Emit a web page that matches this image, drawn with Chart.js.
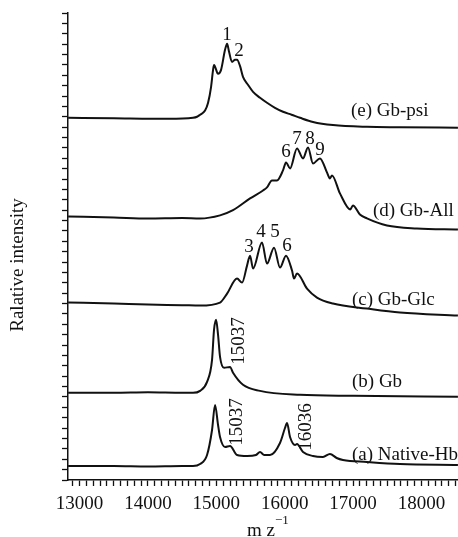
<!DOCTYPE html>
<html>
<head>
<meta charset="utf-8">
<script src="https://cdn.jsdelivr.net/npm/chart.js@4/dist/chart.umd.min.js"></script>
<style>
  body { margin: 0; background: #fff; }
  canvas { display: block; }
</style>
</head>
<body>
<canvas id="myChart" width="458" height="537"></canvas>
<script>
// spectra: m/z and intensity above each trace's own baseline
const seriesNames = ['(a) Native-Hb', '(b) Gb', '(c) Gb-Glc', '(d) Gb-All', '(e) Gb-psi']
const offsets = [1.35, 8.4, 17.0, 25.4, 34.9]

const mzA = [12832, 13500, 14000, 14500, 14659, 14762, 14864, 14937, 14981, 15025, 15054, 15127, 15200, 15303, 15449, 15580, 15639, 15700, 15785, 15931, 16004, 16034, 16078, 16151, 16180, 16268, 16414, 16560, 16662, 16760, 16852, 17203, 17686, 18534]
const intA = [0, 0, -0.05, 0, 0, 0.19, 1.06, 3.47, 5.88, 3.95, 2.79, 1.83, 1.93, 1.06, 0.96, 1.06, 1.35, 1.06, 1.06, 2.22, 3.66, 4.14, 2.79, 2.02, 2.12, 1.35, 0.96, 0.87, 1.16, 0.77, 0.58, 0.39, 0.19, 0.1]

const mzB = [12832, 13500, 14000, 14500, 14659, 14762, 14864, 14937, 14966, 14996, 15025, 15054, 15113, 15200, 15244, 15390, 15639, 16224, 17000, 18534]
const intB = [0, 0, 0.05, 0, 0, 0.19, 1.06, 3.18, 6.07, 7.03, 5.59, 3.47, 2.41, 2.5, 1.93, 0.77, 0.19, -0.19, -0.29, -0.39]

const mzC = [12832, 13500, 14000, 14500, 14762, 15054, 15157, 15303, 15376, 15449, 15493, 15537, 15668, 15741, 15844, 15931, 16019, 16107, 16136, 16180, 16326, 16472, 16706, 17203, 17686, 18534]
const intC = [0.1, 0, -0.1, -0.15, -0.19, 0.1, 0.96, 2.41, 2.02, 3.66, 4.62, 3.37, 5.88, 3.85, 5.39, 3.47, 4.62, 3.18, 2.41, 2.89, 1.45, 0.58, 0, -0.48, -0.87, -1.16]

const mzD = [12832, 13500, 14000, 14500, 14762, 15054, 15244, 15493, 15683, 15741, 15814, 15887, 15975, 16019, 16078, 16180, 16268, 16341, 16414, 16516, 16618, 16662, 16692, 16808, 16960, 16998, 17100, 17203, 17496, 17934, 18534]
const intD = [0, -0.1, -0.2, -0.15, -0.2, 0.1, 0.6, 1.73, 2.5, 2.8, 3.47, 3.47, 4.43, 5.2, 4.62, 6.55, 5.59, 6.65, 5.1, 5.59, 4.24, 3.66, 3.95, 2.22, 0.67, 1.06, 0.19, -0.19, -0.87, -1.16, -1.25]

const mzE = [12832, 13500, 14300, 14659, 14718, 14762, 14835, 14879, 14923, 14952, 14966, 15025, 15069, 15127, 15157, 15186, 15229, 15273, 15303, 15346, 15390, 15463, 15537, 15639, 15741, 15858, 15975, 16100, 16224, 16414, 16706, 17203, 17686, 18534]
const intE = [0, -0.05, -0.1, 0, 0.1, 0.3, 0.7, 1.45, 2.99, 4.62, 5.1, 4.24, 4.62, 6.55, 7.13, 6.36, 5.39, 5.59, 5.59, 5.0, 3.95, 3.18, 2.5, 1.93, 1.45, 0.96, 0.58, 0.3, 0.0, -0.4, -0.7, -0.87, -0.91, -0.96]

const mzList = [mzA, mzB, mzC, mzD, mzE]
const intList = [intA, intB, intC, intD, intE]

// x axis: labelled every 1000, small ticks every 100
const xTickLabels = [13000, 14000, 15000, 16000, 17000, 18000]
const xMinorStep = 100

// peak numbers and masses written beside the traces [text, m/z, y, rotated]
const peakTags = [
    ['1', 15157, 42.87, false], ['2', 15332, 41.33, false],
    ['6', 16019, 31.6, false], ['7', 16180, 32.85, false], ['8', 16370, 32.85, false], ['9', 16516, 31.79, false],
    ['3', 15478, 22.45, false], ['4', 15654, 23.89, false], ['5', 15858, 23.89, false], ['6', 16034, 22.54, false],
    ['15037', 15332, 13.39, true],
    ['15037', 15303, 5.59, true], ['16036', 16311, 5.11, true]
]
// where each trace name starts [m/z, y]
const nameAt = [[16984, 2.41], [16984, 9.44], [16984, 17.34], [17291, 25.92], [16969, 35.55]]

const serif = "'Liberation Serif', 'Times New Roman', serif"

const datasets = seriesNames.map((name, s) => ({
    label: name,
    data: mzList[s].map((m, i) => ({ x: m, y: intList[s][i] + offsets[s] })),
    borderColor: '#111',
    borderWidth: 2,
    pointRadius: 0,
    cubicInterpolationMode: 'monotone',
    fill: false
}))

const textPlugin = {
    id: 'texts',
    afterDraw(chart) {
        const c = chart.ctx
        const x = chart.scales.x
        const y = chart.scales.y
        c.save()
        c.fillStyle = '#111'
        c.font = '19px ' + serif
        c.textBaseline = 'middle'

        c.textAlign = 'left'
        nameAt.forEach((p, i) => {
            c.fillText(seriesNames[i], x.getPixelForValue(p[0]), y.getPixelForValue(p[1]))
        })

        c.textAlign = 'center'
        peakTags.forEach(t => {
            const px = x.getPixelForValue(t[1])
            const py = y.getPixelForValue(t[2])
            if (t[3]) {
                c.save()
                c.translate(px, py)
                c.rotate(-Math.PI / 2)
                c.fillText(t[0], 0, 0)
                c.restore()
            } else {
                c.fillText(t[0], px, py)
            }
        })

        // axis titles
        c.save()
        c.translate(18, 265)
        c.rotate(-Math.PI / 2)
        c.fillText('Ralative intensity', 0, 0)
        c.restore()

        c.textBaseline = 'alphabetic'
        c.fillText('m z', 261, 536)
        c.font = '13px ' + serif
        c.textAlign = 'left'
        c.fillText('\u2212' + '1', 275, 524)
        c.restore()
    }
}

const axisLine = { display: true, color: '#111', width: 1.5 }
const tickGrid = { display: true, drawOnChartArea: false, drawTicks: true, tickLength: 6, tickColor: '#111', tickWidth: 1.3 }

new Chart(document.getElementById('myChart').getContext('2d'), {
    type: 'line',
    data: { datasets: datasets },
    options: {
        responsive: false,
        animation: false,
        layout: { padding: { top: 13, right: 0, left: 0, bottom: 0 } },
        plugins: { legend: { display: false }, tooltip: { enabled: false } },
        scales: {
            x: {
                type: 'linear',
                min: 12830,
                max: 18535,
                afterFit: s => {
                    s.height = 57
                    s.paddingLeft = 0
                    s.paddingRight = 0
                },
                afterBuildTicks: s => {
                    const ticks = []
                    for (let v = Math.ceil(s.min / xMinorStep) * xMinorStep; v <= s.max; v += xMinorStep) {
                        ticks.push({ value: v })
                    }
                    s.ticks = ticks
                },
                border: axisLine,
                grid: tickGrid,
                ticks: {
                    autoSkip: false,
                    maxRotation: 0,
                    color: '#111',
                    padding: 7,
                    font: { family: serif, size: 19 },
                    callback: v => (xTickLabels.includes(v) ? String(v) : '')
                }
            },
            y: {
                min: 0,
                max: 45,
                afterFit: s => {
                    s.width = 68
                    s.paddingTop = 0
                    s.paddingBottom = 0
                },
                border: axisLine,
                grid: tickGrid,
                ticks: { stepSize: 1, autoSkip: false, callback: () => '' }
            }
        }
    },
    plugins: [textPlugin]
})
</script>
</body>
</html>
